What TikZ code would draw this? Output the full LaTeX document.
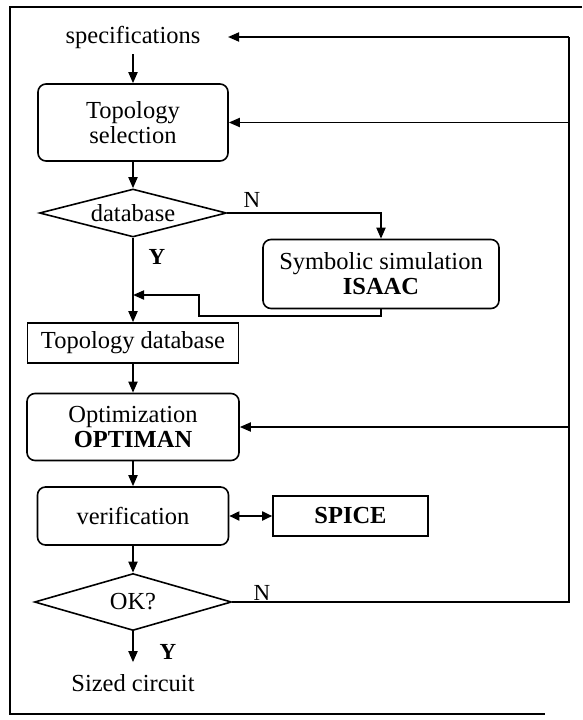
\documentclass[tikz,border=0pt]{standalone}
\usepackage{fontspec}
\setmainfont{Liberation Serif}
\usetikzlibrary{shapes.geometric,arrows.meta}
\begin{document}
\begin{tikzpicture}[x=1pt,y=-1pt,
  every node/.style={font=\fontsize{24.5}{25}\selectfont, align=center, inner sep=0pt},
  line/.style={line width=1.8pt},
  arr/.style={line, -{Triangle[length=11pt,width=9pt]}},
  arrboth/.style={line, {Triangle[length=10pt,width=9pt]}-{Triangle[length=10pt,width=9pt]}},
  roundbox/.style={draw, line width=1.6pt, rounded corners=8pt},
  plainbox/.style={draw, line width=1.6pt},
  decision/.style={draw, line width=1.6pt, diamond, aspect=3.9},
  lbl/.style={font=\fontsize{23}{24}\selectfont}]
\useasboundingbox (0,0) rectangle (582,720);

% outer frame (open on the right)
\draw[line width=1.6pt] (582,7) -- (10,7) -- (10,714) -- (545,714);

% flow elements
\node (spec) at (133,37) {specifications};
\node[roundbox, minimum width=190pt, minimum height=77pt] (ts) at (133,122.5) {Topology\\selection};
\node[decision, minimum width=187pt, minimum height=48pt] (db) at (133,213) {database};
\node[roundbox, minimum width=236pt, minimum height=69pt] (sym) at (381,274) {Symbolic simulation\\\textbf{ISAAC}};
\node[plainbox, minimum width=211pt, minimum height=40pt] (tdb) at (133,343) {Topology database};
\node[roundbox, minimum width=212pt, minimum height=67pt] (opt) at (133,427) {Optimization\\\textbf{OPTIMAN}};
\node[roundbox, minimum width=191pt, minimum height=58pt] (ver) at (133,516) {verification};
\node[plainbox, minimum width=155pt, minimum height=40pt] (spice) at (350.5,516) {\textbf{SPICE}};
\node[decision, minimum width=197pt, minimum height=57pt] (ok) at (133,602) {OK?};
\node (sized) at (133,683) {Sized circuit};

% branch labels
\node[lbl] (n1) at (252,200) {N};
\node[lbl] (y1) at (157,257) {\textbf{Y}};
\node[lbl] (n2) at (262,593) {N};
\node[lbl] (y2) at (168,652) {\textbf{Y}};

% helper points
\coordinate (rt) at (569,37);
\coordinate (specin) at (228,37);
\coordinate (r1) at (199,316);
\coordinate (join) at (133,295);

% main flow
\draw[arr] (spec.south) ++(0,6) -- (ts.north);
\draw[arr] (ts.south) -- (db.north);
\draw[arr] (db.east) -| (sym.north);
\draw[arr] (db.south) -- (tdb.north);
\draw[arr] (sym.south) |- (r1) |- (join);
\draw[arr] (tdb.south) -- (opt.north);
\draw[arr] (opt.south) -- (ver.north);
\draw[arrboth] (ver.east) -- (spice.west);
\draw[arr] (ver.south) -- (ok.north);
\draw[arr, shorten >=12pt] (ok.south) -- (sized.north);

% feedback loop
\draw[line] (ok.east) -- (rt |- ok.east) -- (rt);
\draw[arr] (rt) -- (specin);
\draw[arr] (rt |- ts.east) -- (ts.east);
\draw[arr] (rt |- opt.east) -- (opt.east);
\end{tikzpicture}
\end{document}
